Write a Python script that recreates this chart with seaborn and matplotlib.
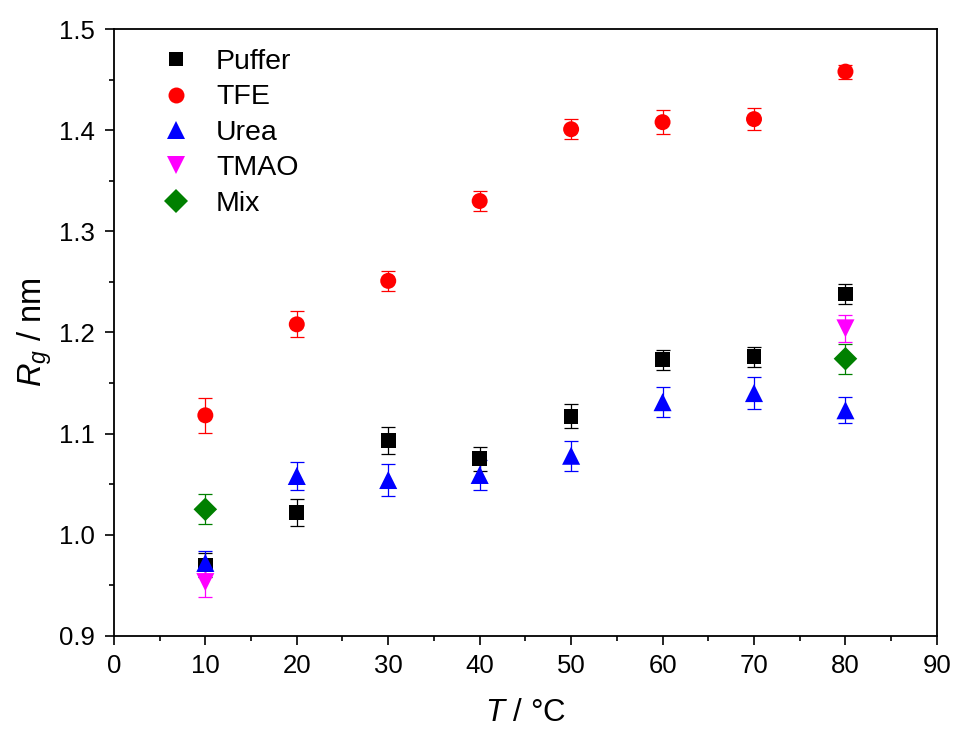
import matplotlib
matplotlib.use("Agg")
import matplotlib.pyplot as plt
import numpy as np
import pandas as pd
import seaborn as sns
from matplotlib.ticker import MultipleLocator

# Rg vs temperature
temps = [10, 20, 30, 40, 50, 60, 70, 80]

puffer = [0.970, 1.022, 1.093, 1.075, 1.117, 1.173, 1.176, 1.238]
puffer_err = [0.012, 0.013, 0.013, 0.012, 0.012, 0.010, 0.010, 0.010]

tfe = [1.118, 1.208, 1.251, 1.330, 1.401, 1.408, 1.411, 1.458]
tfe_err = [0.017, 0.013, 0.010, 0.010, 0.010, 0.012, 0.011, 0.007]

urea = [0.972, 1.058, 1.054, 1.059, 1.078, 1.131, 1.140, 1.123]
urea_err = [0.012, 0.014, 0.016, 0.015, 0.015, 0.015, 0.016, 0.013]

tmao_t = [10, 80]
tmao = [0.953, 1.204]
tmao_err = [0.015, 0.013]

mix_t = [10, 80]
mix = [1.025, 1.174]
mix_err = [0.015, 0.015]

series = ["Puffer", "TFE", "Urea", "TMAO", "Mix"]
colors = ["black", "#ff0000", "#0000ff", "#ff00ff", "#008000"]
markers = ["s", "o", "^", "v", "D"]
msizes = [10.5, 11.5, 13, 13, 12]  # marker size in points

frames = [
    pd.DataFrame({"T": temps, "Rg": puffer, "err": puffer_err, "set": "Puffer"}),
    pd.DataFrame({"T": temps, "Rg": tfe, "err": tfe_err, "set": "TFE"}),
    pd.DataFrame({"T": temps, "Rg": urea, "err": urea_err, "set": "Urea"}),
    pd.DataFrame({"T": tmao_t, "Rg": tmao, "err": tmao_err, "set": "TMAO"}),
    pd.DataFrame({"T": mix_t, "Rg": mix, "err": mix_err, "set": "Mix"}),
]
df = pd.concat(frames, ignore_index=True)

sns.set_style("ticks")
plt.rcParams["font.family"] = ["Liberation Sans", "DejaVu Sans"]
plt.rcParams["mathtext.fontset"] = "custom"
plt.rcParams["mathtext.rm"] = "Liberation Sans"
plt.rcParams["mathtext.it"] = "Liberation Sans:italic"
for key in ["text.color", "axes.labelcolor", "xtick.color", "ytick.color", "axes.edgecolor"]:
    plt.rcParams[key] = "black"

fig = plt.figure(figsize=(9.57, 7.29), dpi=100)
ax = fig.add_axes([0.119, 0.128, 0.860, 0.832])

# error bars first, markers on top
for name, col in zip(series, colors):
    d = df[df["set"] == name]
    ax.errorbar(d["T"], d["Rg"], yerr=d["err"], fmt="none", ecolor=col,
                elinewidth=0.9, capsize=4.7, capthick=0.9, zorder=2)

sns.scatterplot(data=df, x="T", y="Rg", hue="set", style="set", size="set",
                hue_order=series, style_order=series, size_order=series,
                palette=dict(zip(series, colors)),
                markers=dict(zip(series, markers)),
                sizes={k: m ** 2 for k, m in zip(series, msizes)},
                edgecolor="none", linewidth=0, ax=ax, zorder=3)

ax.set_xlim(0, 90)
ax.set_ylim(0.9, 1.5)
ax.xaxis.set_major_locator(MultipleLocator(10))
ax.xaxis.set_minor_locator(MultipleLocator(5))
ax.yaxis.set_major_locator(MultipleLocator(0.1))
ax.yaxis.set_minor_locator(MultipleLocator(0.05))
ax.yaxis.set_major_formatter(matplotlib.ticker.FormatStrFormatter("%.1f"))

ax.tick_params(which="major", direction="out", length=6.5, width=1.2, labelsize=18.5)
ax.tick_params(which="minor", direction="out", length=3.5, width=1.2)
ax.tick_params(axis="x", which="major", pad=7)
ax.tick_params(axis="y", which="major", pad=7)
for sp in ax.spines.values():
    sp.set_linewidth(1.3)
    sp.set_visible(True)

ax.set_xlabel(r"$T$ / °C", fontsize=22.5, labelpad=14)
ax.set_ylabel(r"$R_g$ / nm", fontsize=23.5, labelpad=4)

leg = ax.legend(loc="upper left", bbox_to_anchor=(0.034, 1.0), frameon=False,
                fontsize=20.5, handlelength=1.0, handletextpad=0.9,
                labelspacing=0.33, borderpad=0.2, markerscale=1.0)
for h, m in zip(leg.legend_handles, msizes):
    h.set_markersize(m)
    h.set_markeredgewidth(0)

plt.savefig("out.png", dpi=100)
